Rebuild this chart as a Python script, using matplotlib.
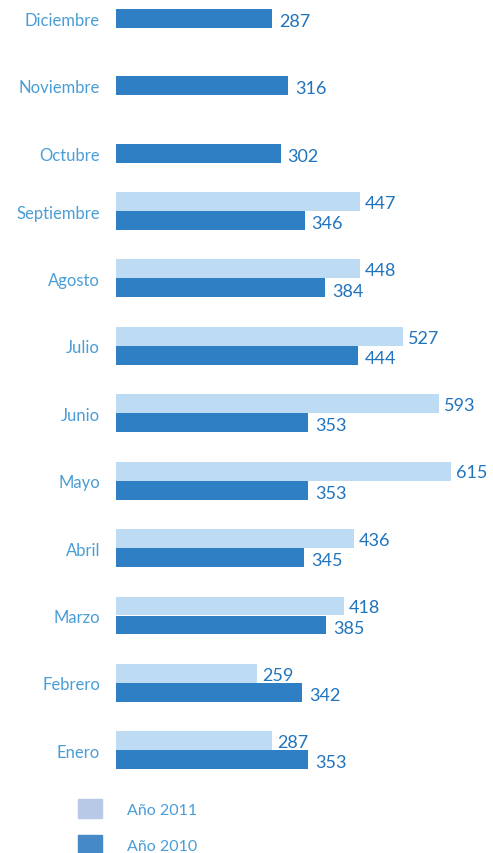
import matplotlib

matplotlib.use("Agg")
import matplotlib.pyplot as plt
from matplotlib.patches import Patch

months = ["Diciembre", "Noviembre", "Octubre", "Septiembre", "Agosto", "Julio",
          "Junio", "Mayo", "Abril", "Marzo", "Febrero", "Enero"]
v2011 = [None, None, None, 447, 448, 527, 593, 615, 436, 418, 259, 287]
v2010 = [287, 316, 302, 346, 384, 444, 353, 353, 345, 385, 342, 353]
legend_labels = ["Año 2011", "Año 2010"]

C11, C10 = "#bddcf3", "#2e7fc4"
LBL, VAL = "#4a9dd6", "#1f74bd"
FONT = ["Lato", "DejaVu Sans"]

fig = plt.figure(figsize=(4.93, 8.54), dpi=100)
ax = fig.add_axes([116 / 493, 69 / 854, 377 / 493, 785 / 854])

off, h = 0.141, 0.28
ticks = []
for i, (a, b) in enumerate(zip(v2011, v2010)):
    if a is not None:
        ax.barh(i - off, a, height=h, color=C11, edgecolor="none")
        ax.text(a + 9, i - off + 0.02, str(a), color=VAL, fontsize=13,
                family=FONT, va="center", ha="left")
        ticks.append(i)
    else:
        ticks.append(i + off)
    ax.barh(i + off, b, height=h, color=C10, edgecolor="none")
    ax.text(b + 13, i + off + 0.04, str(b), color=VAL, fontsize=13,
            family=FONT, va="center", ha="left")

ax.set_xlim(0, 692)
ax.set_ylim(11.5, -0.145)
ax.set_yticks(ticks)
ax.set_yticklabels(months, color=LBL, fontsize=12, family=FONT)
ax.tick_params(axis="y", length=0, pad=11.5)
ax.set_xticks([])
for s in ax.spines.values():
    s.set_visible(False)

handles = [Patch(color="#b7c9e6"), Patch(color="#4589c8")]
leg = fig.legend(handles, legend_labels, loc="upper left",
                 bbox_to_anchor=(64 / 493, 1 - 786 / 854), frameon=False,
                 handlelength=1.45, handleheight=1.45, handletextpad=1.6,
                 labelspacing=1.05, prop={"family": FONT, "size": 11.5})
for t in leg.get_texts():
    t.set_color(LBL)

fig.savefig("out.png", dpi=100)
